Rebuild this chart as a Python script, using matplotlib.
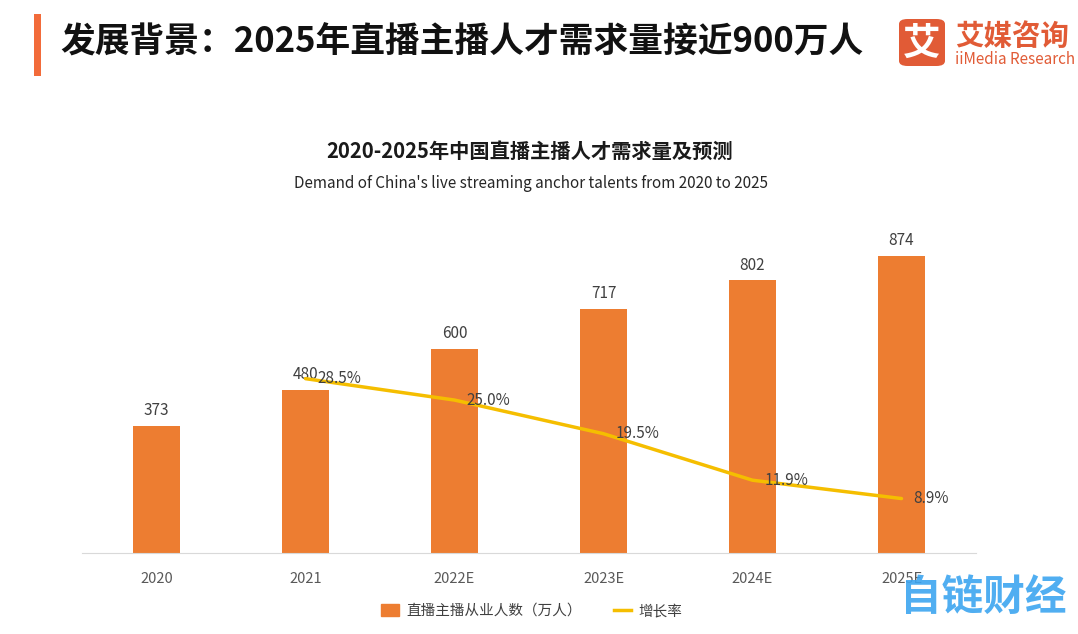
import numpy as np
import matplotlib.pyplot as plt
from matplotlib.patches import FancyBboxPatch, Rectangle
from matplotlib.lines import Line2D

plt.rcParams['font.family'] = ['Noto Sans CJK SC', 'DejaVu Sans']

# data
categories = ['2020', '2021', '2022E', '2023E', '2024E', '2025E']
talents = [373, 480, 600, 717, 802, 874]          # 万人
growth = [None, 28.5, 25.0, 19.5, 11.9, 8.9]       # %

orange = '#ED7D31'
gold = '#F5BE00'
logo_red = '#E15B36'

fig = plt.figure(figsize=(10.78, 6.34), dpi=100)

# header
fig.patches.append(Rectangle((34/1078, 1-76/634), 7/1078, 62/634,
                             transform=fig.transFigure, color='#F26B3A', lw=0))
fig.text(60/1078, 1-42/634, '发展背景：2025年直播主播人才需求量接近900万人',
         fontsize=25, fontweight='bold', color='#111111', va='center', ha='left')

# logo
fig.patches.append(FancyBboxPatch((899/1078, 1-66/634), 46/1078, 47/634,
                                  boxstyle='round,pad=0,rounding_size=0.008',
                                  transform=fig.transFigure, color=logo_red, lw=0))
fig.text(922/1078, 1-43/634, '艾', fontsize=27, fontweight='bold', color='white',
         ha='center', va='center')
fig.text(955/1078, 1-37/634, '艾媒咨询', fontsize=20.5, fontweight='bold', color=logo_red,
         ha='left', va='center')
fig.text(955/1078, 1-59/634, 'iiMedia Research', fontsize=11, color=logo_red,
         ha='left', va='center')

# chart titles
fig.text(530/1078, 1-151/634, '2020-2025年中国直播主播人才需求量及预测',
         fontsize=14.6, fontweight='bold', color='#1a1a1a', ha='center', va='center')
fig.text(531/1078, 1-183/634, "Demand of China's live streaming anchor talents from 2020 to 2025",
         fontsize=11, color='#262626', ha='center', va='center')

ax = fig.add_axes([82/1078, 81/634, 894/1078, 323/634])
x = np.arange(len(categories))
ax.bar(x, talents, width=0.32, color=orange, zorder=2)
ax.set_xlim(-0.5, 5.5)
ax.set_ylim(0, 950)
for i, v in enumerate(talents):
    ax.text(i, v + 20, str(v), ha='center', va='bottom', fontsize=11, color='#404040', zorder=5)
ax.set_xticks(x)
ax.set_xticklabels(categories, fontsize=10.5, color='#595959')
ax.tick_params(axis='x', length=0, pad=14)
ax.set_yticks([])
for s in ['top', 'right', 'left']:
    ax.spines[s].set_visible(False)
ax.spines['bottom'].set_color('#D9D9D9')

ax2 = ax.twinx()
ax2.set_ylim(0, 52.8)
gx = [i for i, g in enumerate(growth) if g is not None]
gy = [g for g in growth if g is not None]
ax2.plot(gx, gy, color=gold, lw=2.5, zorder=3, solid_capstyle='round')
for xi, g in zip(gx, gy):
    ax2.text(xi + 0.08, g, f'{g:.1f}%', ha='left', va='center', fontsize=11, color='#404040')
ax2.set_yticks([])
for s in ['top', 'right', 'left', 'bottom']:
    ax2.spines[s].set_visible(False)

# legend
handles = [Rectangle((0, 0), 1, 1, color=orange), Line2D([0], [0], color=gold, lw=2.5)]
fig.legend(handles, ['直播主播从业人数（万人）', '增长率'], loc='center',
           bbox_to_anchor=(532/1078, 1-611/634), ncol=2, frameon=False, fontsize=10.5,
           handlelength=1.2, handleheight=0.9, handletextpad=0.5, columnspacing=2.2,
           labelcolor='#404040')

# watermark
fig.text(983/1078, 1-598/634, '自链财经', fontsize=30, fontweight='bold', color='#3DA5F0',
         alpha=0.9, ha='center', va='center')

fig.savefig('out.png', dpi=100)
